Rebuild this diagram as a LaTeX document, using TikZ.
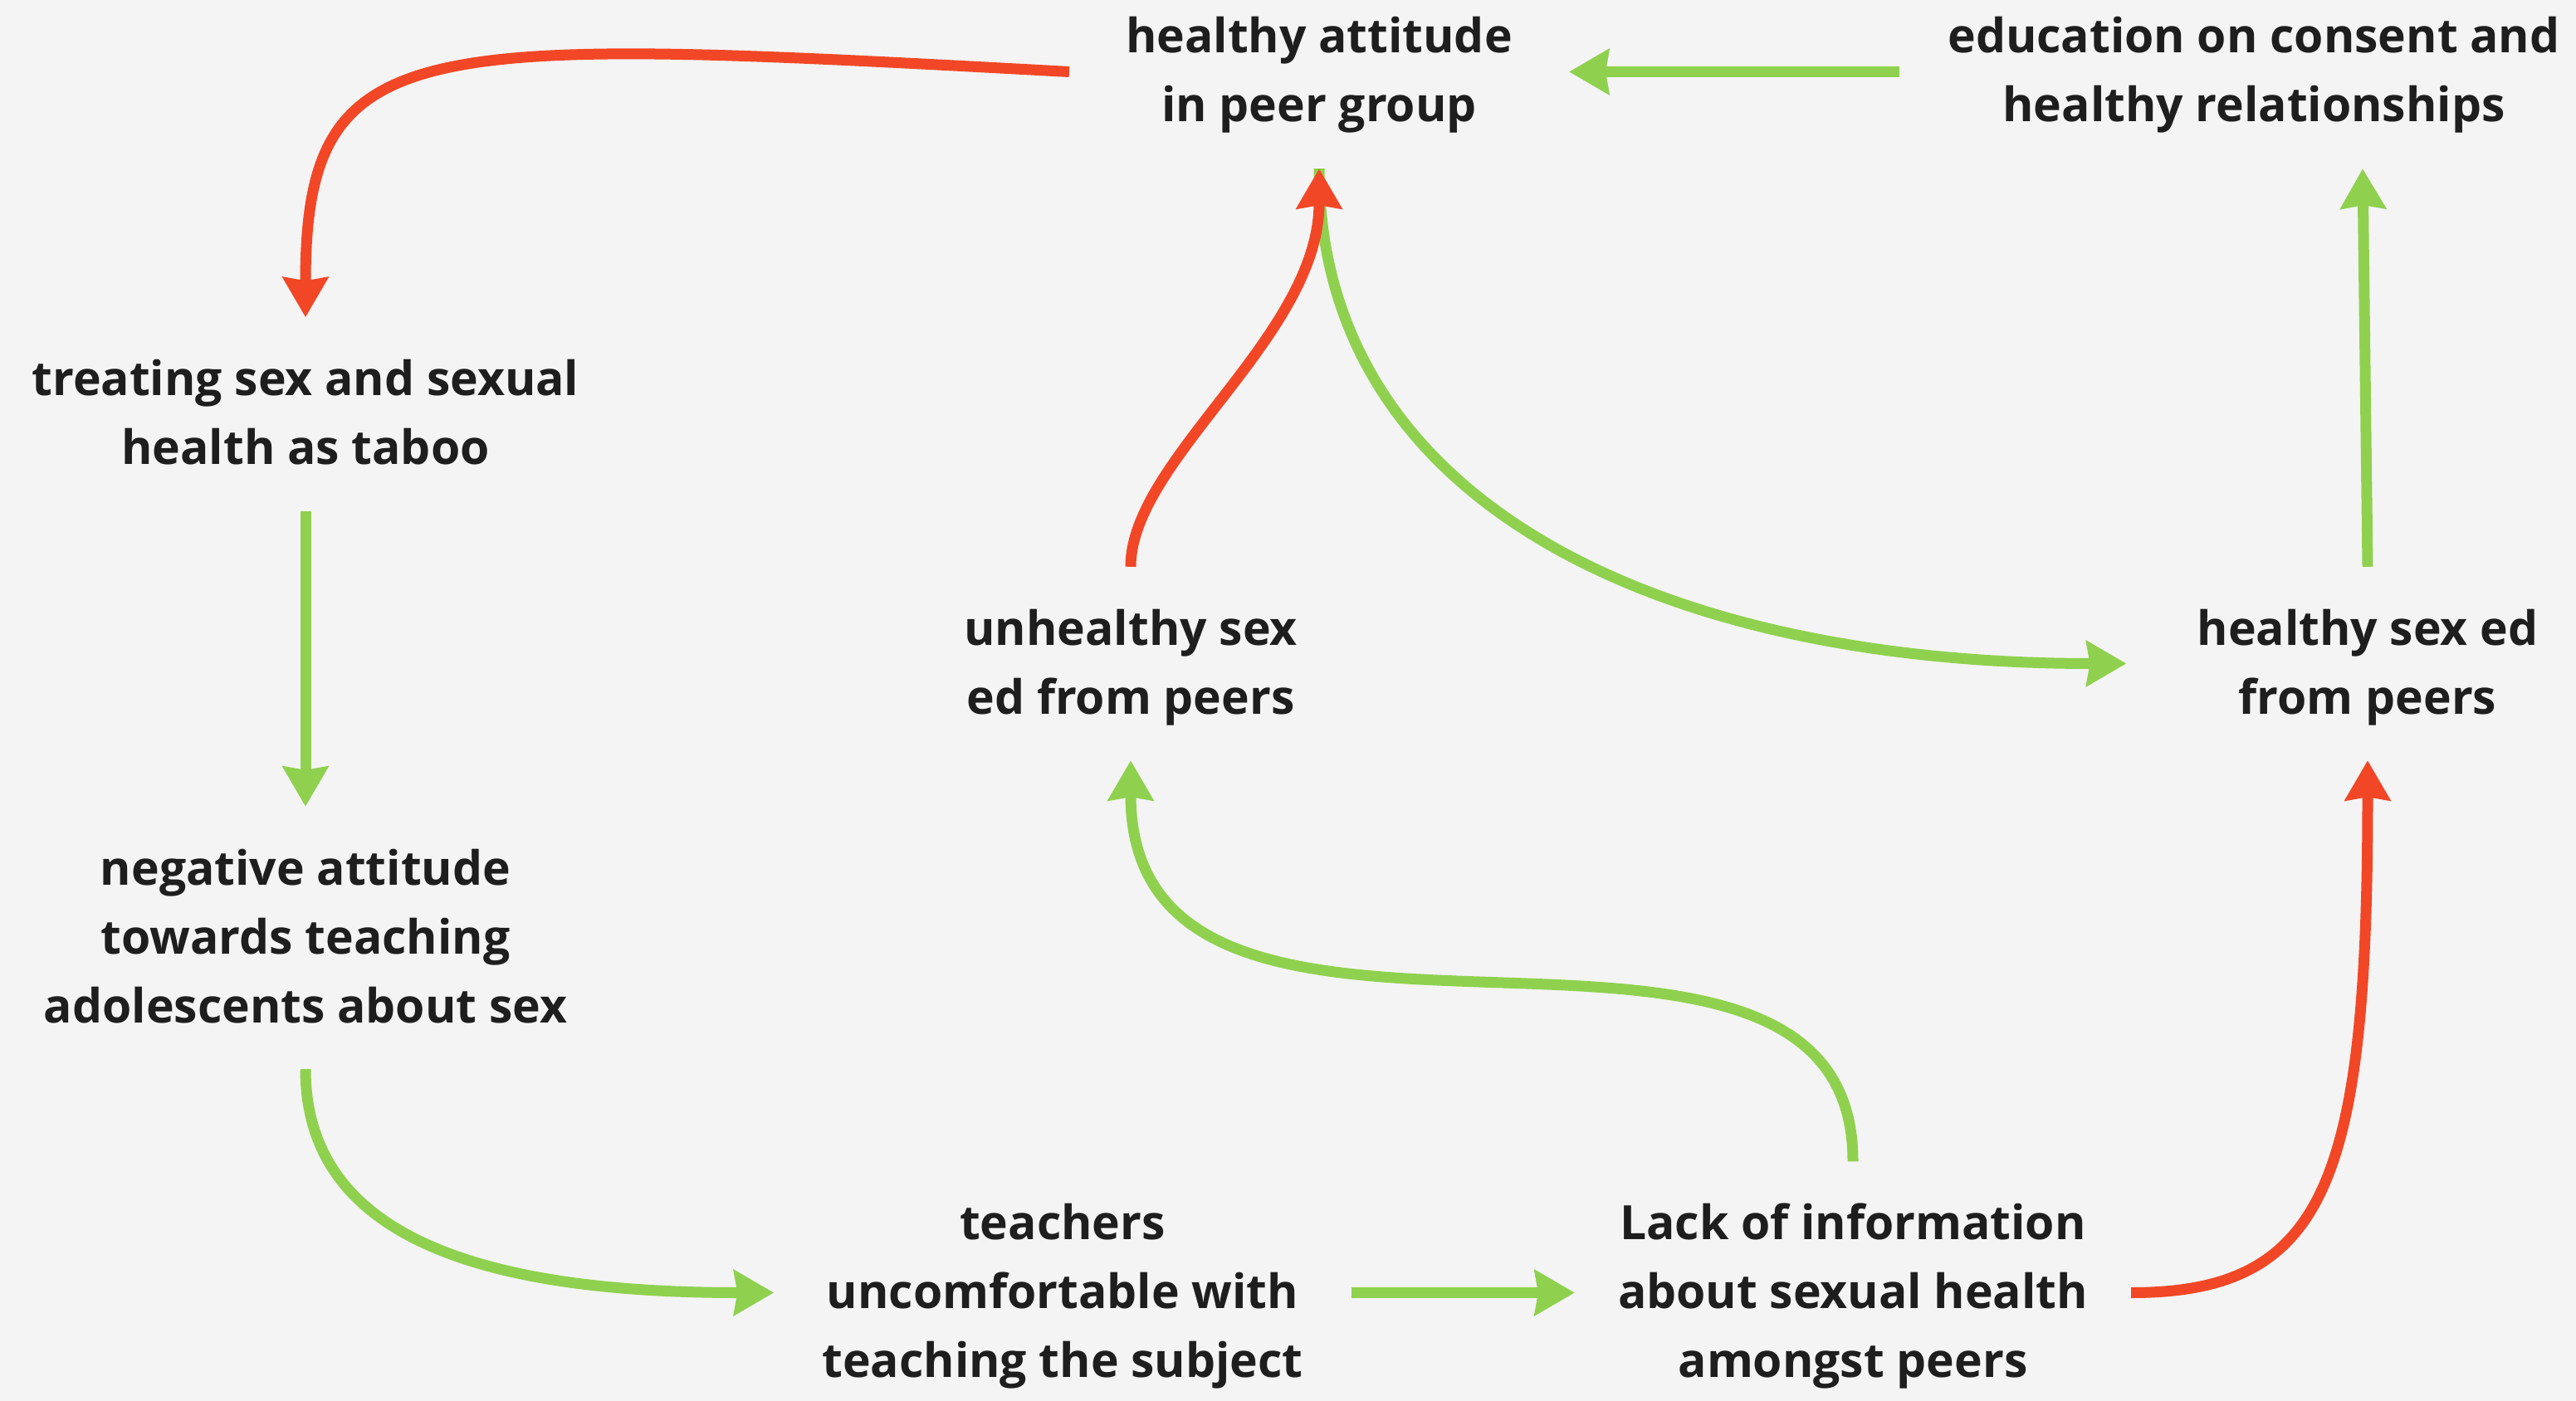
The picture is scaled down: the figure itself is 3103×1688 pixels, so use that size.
\documentclass[tikz,border=0pt]{standalone}
\usepackage{fontspec}
\setmainfont{Open Sans}
\usetikzlibrary{arrows.meta}
\definecolor{miroRed}{HTML}{F24726}
\definecolor{miroGreen}{HTML}{8FD14F}
\definecolor{paper}{HTML}{F4F4F4}
\definecolor{ink}{HTML}{1E1E1E}
\begin{document}
\begin{tikzpicture}[x=1pt,y=-1pt]
        \tikzstyle{factor}=[align=center,text=ink,font=\fontsize{57}{83}\selectfont\bfseries,inner xsep=58pt,inner ysep=35pt,
          execute at end node={\rule[-21pt]{0pt}{21pt}}]
        \tikzstyle{twolines}=[factor,text height=142pt]
        \tikzstyle{threelines}=[factor,text height=225pt]
        \tikzstyle{link}=[line width=13pt,-{Stealth[length=48pt,width=54pt,inset=4pt]}]
        \tikzstyle{greenlink}=[link,draw=miroGreen]
        \tikzstyle{redlink}=[link,draw=miroRed]
        \fill[paper] (0,0) rectangle (3103,1688);
        \useasboundingbox (0,0) rectangle (3103,1688);
        % causes
        \node [twolines,inner xsep=68pt] (ha) at (1589,86.5) {healthy attitude\\in peer group};
        \node [twolines] (edu) at (2715,86.5) {education on consent and\\healthy relationships};
        \node [twolines] (taboo) at (368,499) {treating sex and sexual\\health as taboo};
        \node [threelines] (neg) at (368,1130) {negative attitude\\towards teaching\\adolescents about sex};
        \node [threelines] (teach) at (1280,1557.5) {teachers\\uncomfortable with\\teaching the subject};
        \node [threelines,inner xsep=52pt] (lack) at (2232,1557.5) {Lack of information\\about sexual health\\amongst peers};
        \node [twolines] (unh) at (1362,799.5) {unhealthy sex\\ed from peers};
        \node [twolines,inner xsep=85pt] (hse) at (2852,799.5) {healthy sex ed\\from peers};
        % green links
        \path[greenlink] (edu.west) -- (ha.east);
        \path[greenlink] (taboo.south) -- (neg.north);
        \path[greenlink] (neg.south) .. controls +(0,194) and +(-370,0) .. (teach.west);
        \path[greenlink] (teach.east) -- (lack.west);
        \path[greenlink] (lack.north) .. controls +(0,-405) and +(0,460) .. (unh.south);
        \path[greenlink] (ha.south) .. controls +(0,402) and +(-563,0) .. (hse.west);
        \path[greenlink] (hse.north) -- ([xshift=-6pt]hse.north |- edu.south);
        % red links
        \path[redlink] (ha.west) .. controls +(-792,-43) and +(0,-346) .. (taboo.north);
        \path[redlink] (unh.north) .. controls +(0,-129) and +(0,202) .. (ha.south);
        \path[redlink] (lack.east) .. controls +(235,0) and +(0,506) .. (hse.south);
\end{tikzpicture}
\end{document}
